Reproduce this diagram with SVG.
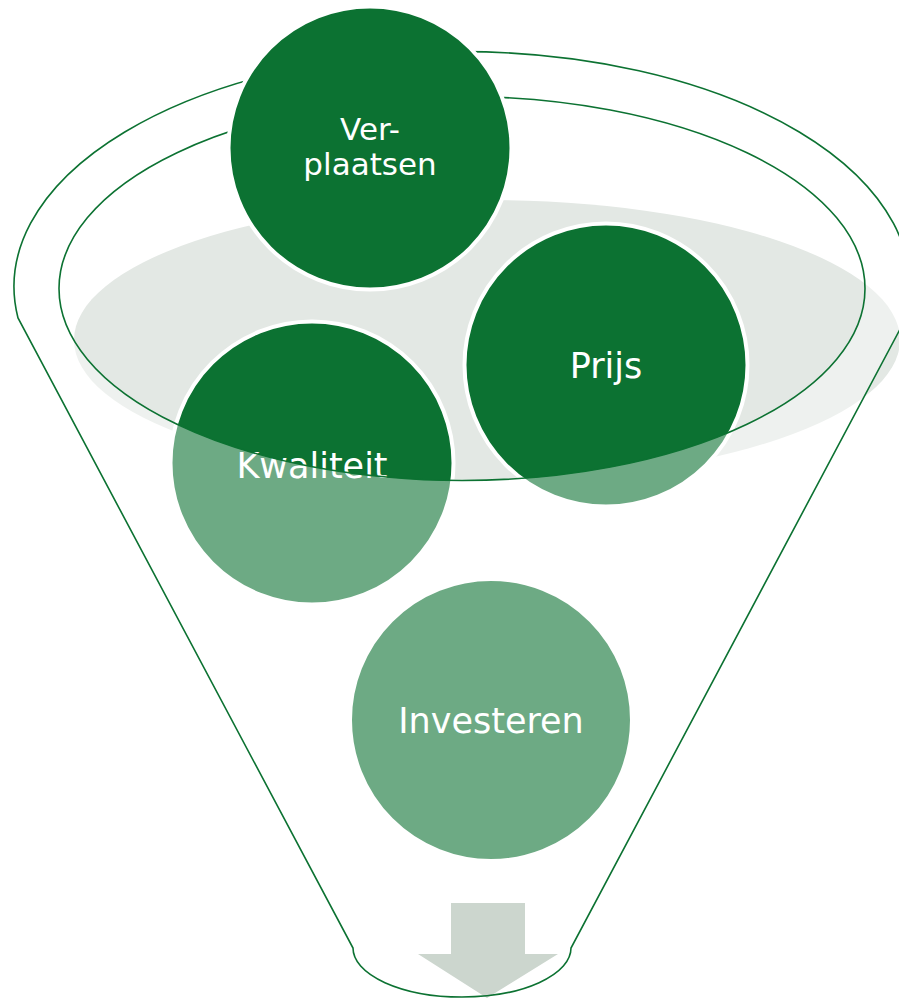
<svg xmlns="http://www.w3.org/2000/svg" width="899" height="1000" viewBox="0 0 899 1000">
<style>
.c{fill:#0C7232;stroke:#FFFFFF;stroke-width:4}
.t{font-family:"DejaVu Sans","Verdana",sans-serif;font-size:35px;fill:#FFFFFF;text-anchor:middle}
.t2{font-family:"DejaVu Sans","Verdana",sans-serif;font-size:31px;fill:#FFFFFF;text-anchor:middle}
.ln{fill:none;stroke:#0C7232;stroke-width:1.6}
</style>
<rect width="899" height="1000" fill="#FFFFFF"/>
<g id="funnel-back">
<ellipse cx="487" cy="340" rx="413" ry="140" fill="#E3E8E4"/>
</g>
<g id="node-kwaliteit">
<circle class="c" cx="312" cy="463" r="141.5"/>
<text class="t" x="312" y="478">Kwaliteit</text>
</g>
<g id="node-prijs">
<circle class="c" cx="606" cy="365" r="141.5"/>
<text class="t" x="606" y="378">Prijs</text>
</g>
<g id="node-investeren">
<circle class="c" cx="491" cy="720" r="141"/>
<text class="t" x="491" y="733">Investeren</text>
</g>
<g id="funnel-body">
<path d="M18,318 A448,235 0 1 1 906,318 L571,948 A109,49 0 0 1 353,948 Z M59,288.5 A403,192 0 1 0 865,288.5 A403,192 0 1 0 59,288.5 Z" fill="#FFFFFF" fill-opacity="0.4" fill-rule="evenodd"/>
</g>
<g id="arrow">
<polygon points="451,903 525,903 525,954 558,954 487,998 418,954 451,954" fill="#CCD6CE"/>
</g>
<g id="connectors">
<path class="ln" d="M18,318 A448,235 0 1 1 906,318 L571,948 A109,49 0 0 1 353,948 Z"/>
<ellipse class="ln" cx="462" cy="288.5" rx="403" ry="192"/>
</g>
<g id="node-verplaatsen">
<circle class="c" cx="370" cy="148" r="141.5"/>
<text class="t2" x="370" y="140">Ver-</text>
<text class="t2" x="370" y="175">plaatsen</text>
</g>
</svg>
